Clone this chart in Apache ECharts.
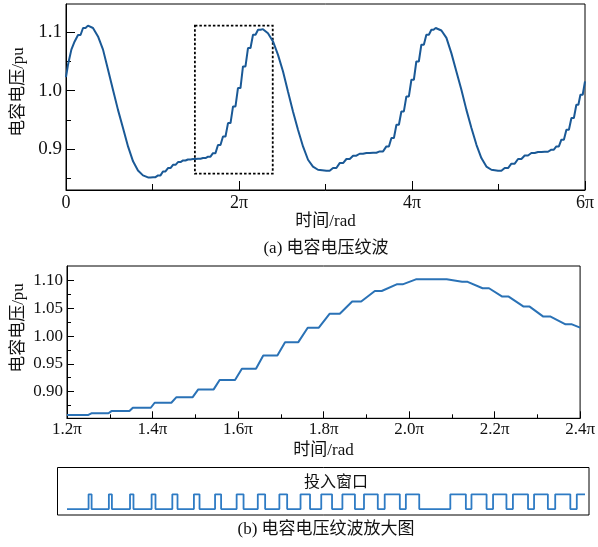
<!DOCTYPE html>
<html><head><meta charset="utf-8">
<script src="https://cdn.jsdelivr.net/npm/echarts@6/dist/echarts.min.js"></script>
<style>html,body{margin:0;padding:0;background:#fff}#c{width:598px;height:547px}</style>
</head><body><div id="c"></div>
<script>
// ---- (a) capacitor voltage ripple, t in units of pi ----
const topT = [0, 0.023, 0.062, 0.10, 0.139, 0.197, 0.254, 0.312, 0.370, 0.428, 0.486, 0.543, 0.601, 0.659, 0.717, 0.775, 0.832, 0.890, 0.948, 1.006, 1.064, 1.121, 1.179, 1.237, 1.295, 1.353, 1.41, 1.468, 1.526, 1.584, 1.642, 1.699, 1.757, 1.815, 1.873, 1.931, 1.988, 2.046, 2.104, 2.162, 2.220, 2.277, 2.335, 2.393, 2.451, 2.509, 2.566, 2.624, 2.682, 2.740, 2.798, 2.855, 2.913, 3.010, 3.087, 3.164, 3.242, 3.319, 3.395, 3.473, 3.550, 3.627, 3.704, 3.762, 3.820, 3.877, 3.935, 3.993, 4.05, 4.108, 4.166, 4.224, 4.274, 4.340, 4.398, 4.455, 4.513, 4.571, 4.629, 4.687, 4.745, 4.802, 4.860, 4.918, 4.995, 5.072, 5.149, 5.226, 5.303, 5.380, 5.457, 5.534, 5.611, 5.669, 5.727, 5.785, 5.843, 5.900, 5.947, 6.0];
const topV = [1.023, 1.044, 1.070, 1.084, 1.095, 1.107, 1.111, 1.107, 1.0925, 1.070, 1.0356, 1.0014, 0.967, 0.936, 0.9045, 0.879, 0.8634, 0.855, 0.8515, 0.852, 0.855, 0.8617, 0.8675, 0.873, 0.8778, 0.8805, 0.8822, 0.8829, 0.8834, 0.8846, 0.887, 0.893, 0.907, 0.9215, 0.9444, 0.9728, 1.0043, 1.0412, 1.0727, 1.0954, 1.104, 1.105, 1.098, 1.084, 1.061, 1.0327, 0.9985, 0.9643, 0.933, 0.9045, 0.8817, 0.870, 0.8646, 0.8629, 0.8675, 0.876, 0.883, 0.8886, 0.892, 0.8932, 0.8937, 0.896, 0.9045, 0.919, 0.9415, 0.9643, 0.990, 1.0185, 1.0497, 1.0783, 1.0954, 1.104, 1.107, 1.1027, 1.090, 1.064, 1.0327, 1.0014, 0.967, 0.936, 0.9073, 0.8846, 0.870, 0.8646, 0.8629, 0.8675, 0.875, 0.883, 0.889, 0.8932, 0.895, 0.8954, 0.899, 0.9045, 0.916, 0.933, 0.953, 0.9757, 0.9928, 1.0156];
const topYTicks = [0.9, 1.0, 1.1];
const topYMinor = [0.85, 0.95, 1.05];
const zoomBoxT = [1.49, 2.39];
const zoomBoxV = [0.858, 1.111];

// ---- (b) zoomed view 1.2pi..2.4pi: insertion windows and resulting levels ----
const pulseOn  = [1.250, 1.297, 1.346, 1.396, 1.444, 1.494, 1.543, 1.593, 1.642, 1.692, 1.741, 1.789, 1.838, 1.888, 1.936, 1.985, 2.088, 2.137, 2.187, 2.233, 2.282, 2.331, 2.381];
const pulseOff = [1.257, 1.304, 1.354, 1.405, 1.456, 1.507, 1.557, 1.609, 1.659, 1.710, 1.763, 1.814, 1.867, 1.920, 1.971, 2.016, 2.124, 2.172, 2.218, 2.268, 2.314, 2.366, 2.400];
const midLevel = [0.858, 0.861, 0.865, 0.871, 0.880, 0.890, 0.904, 0.921, 0.941, 0.965, 0.989, 1.015, 1.040, 1.062, 1.081, 1.093, 1.102, 1.0975, 1.086, 1.071, 1.053, 1.035, 1.021, 1.015];
const midYTicks = [0.90, 0.95, 1.00, 1.05, 1.10];
const midYMinor = [0.875, 0.925, 0.975, 1.025, 1.075];

// build top line: rising intervals drawn as stairs (flat half, then quick rise)
const topData = [];
for (let i = 0; i < topT.length; i++) {
  if (i > 0 && topV[i] > topV[i - 1]) topData.push([(topT[i - 1] + topT[i]) / 2, topV[i - 1]]);
  topData.push([topT[i], topV[i]]);
}
// middle curve: level changes only during insertion windows
const midData = [[1.2, midLevel[0]]];
for (let k = 0; k < pulseOn.length; k++) {
  midData.push([pulseOn[k], midLevel[k]]);
  midData.push([pulseOff[k], midLevel[k + 1]]);
}
midData.push([2.4, midLevel[midLevel.length - 1]]);
// pulse train
const pulseData = [[1.2, 0]];
for (let k = 0; k < pulseOn.length; k++) {
  pulseData.push([pulseOn[k], 0], [pulseOn[k], 1], [pulseOff[k], 1]);
  if (pulseOff[k] < 2.4) pulseData.push([pulseOff[k], 0]);
}

const FONT = "'Liberation Serif', 'Noto Sans CJK SC', serif";
const black = '#000';
const lbl = (size) => ({ color: '#111', fontFamily: FONT, fontSize: size });

const chart = echarts.init(document.getElementById('c'), null, { renderer: 'canvas' });
chart.setOption({
  animation: false,
  backgroundColor: '#fff',
  grid: [
    { left: 66, top: 4, width: 519, height: 186, show: true, borderColor: black, borderWidth: 1 },
    { left: 67, top: 266, width: 518, height: 152.3, show: true, borderColor: black, borderWidth: 1 },
    { left: 67, top: 491.4, width: 518, height: 20.6, show: false }
  ],
  xAxis: [
    { gridIndex: 0, type: 'value', min: 0, max: 6, interval: 2,
      axisLine: { lineStyle: { color: black, width: 1 } },
      axisTick: { inside: true, length: 9, lineStyle: { color: black } },
      minorTick: { show: true, splitNumber: 2, length: 6, lineStyle: { color: black } },
      splitLine: { show: false },
      axisLabel: Object.assign(lbl(18), { margin: 4, formatter: v => v === 0 ? '0' : v + 'π' }),
      name: '时间/rad', nameLocation: 'middle', nameGap: 22, nameTextStyle: lbl(17) },
    { gridIndex: 1, type: 'value', min: 1.2, max: 2.4, interval: 0.2,
      axisLine: { lineStyle: { color: black, width: 1 } },
      axisTick: { inside: true, length: 7, lineStyle: { color: black } },
      minorTick: { show: true, splitNumber: 2, length: 4, lineStyle: { color: black } },
      splitLine: { show: false },
      axisLabel: Object.assign(lbl(17), { margin: 3, formatter: v => v.toFixed(1) + 'π' }),
      name: '时间/rad', nameLocation: 'middle', nameGap: 24, nameTextStyle: lbl(17) },
    { gridIndex: 2, type: 'value', min: 1.2, max: 2.4, show: false }
  ],
  yAxis: [
    { gridIndex: 0, type: 'value', min: 0.83, max: 1.148,
      axisLine: { show: true, lineStyle: { color: black } },
      axisTick: { show: true, inside: true, length: 9, customValues: topYTicks, lineStyle: { color: black } },
      axisLabel: Object.assign(lbl(19), { margin: 4, customValues: topYTicks, formatter: v => v.toFixed(1) }),
      splitLine: { show: false } },
    { gridIndex: 0, type: 'value', min: 0.83, max: 1.148, position: 'left',
      axisLine: { show: false }, axisLabel: { show: false }, splitLine: { show: false },
      axisTick: { show: true, inside: true, length: 5, customValues: topYMinor, lineStyle: { color: black } } },
    { gridIndex: 1, type: 'value', min: 0.852, max: 1.126,
      axisLine: { show: true, lineStyle: { color: black } },
      axisTick: { show: true, inside: true, length: 7, customValues: midYTicks, lineStyle: { color: black } },
      axisLabel: Object.assign(lbl(17), { margin: 4, customValues: midYTicks, formatter: v => v.toFixed(2) }),
      splitLine: { show: false } },
    { gridIndex: 1, type: 'value', min: 0.852, max: 1.126, position: 'left',
      axisLine: { show: false }, axisLabel: { show: false }, splitLine: { show: false },
      axisTick: { show: true, inside: true, length: 4, customValues: midYMinor, lineStyle: { color: black } } },
    { gridIndex: 2, type: 'value', min: -0.2, max: 1.2, show: false }
  ],
  series: [
    { type: 'line', xAxisIndex: 0, yAxisIndex: 0, data: topData, showSymbol: false,
      lineStyle: { color: '#1a5996', width: 2 },
      markArea: { silent: true,
        itemStyle: { color: 'rgba(0,0,0,0)', borderColor: black, borderWidth: 1.8, borderType: [2.5, 2] },
        data: [[{ coord: [zoomBoxT[0], zoomBoxV[1]] }, { coord: [zoomBoxT[1], zoomBoxV[0]] }]] } },
    { type: 'line', xAxisIndex: 1, yAxisIndex: 2, data: midData, showSymbol: false,
      lineStyle: { color: '#2a72b6', width: 2 } },
    { type: 'line', xAxisIndex: 2, yAxisIndex: 4, data: pulseData, showSymbol: false, clip: false,
      lineStyle: { color: '#2e7bc4', width: 1.8 } }
  ],
  graphic: [
    { type: 'text', x: 19, y: 92, rotation: Math.PI / 2,
      style: { text: '电容电压/pu', font: '17px ' + FONT, fill: '#111', align: 'center', verticalAlign: 'middle' } },
    { type: 'text', x: 19, y: 328, rotation: Math.PI / 2,
      style: { text: '电容电压/pu', font: '17px ' + FONT, fill: '#111', align: 'center', verticalAlign: 'middle' } },
    { type: 'text', x: 326, y: 249,
      style: { text: '(a) 电容电压纹波', font: '17px ' + FONT, fill: '#111', align: 'center', verticalAlign: 'middle' } },
    { type: 'rect', shape: { x: 57.5, y: 467.5, width: 531.5, height: 47.5 },
      style: { fill: 'none', stroke: black, lineWidth: 1 } },
    { type: 'text', x: 336, y: 483,
      style: { text: '投入窗口', font: '16px ' + FONT, fill: '#111', align: 'center', verticalAlign: 'middle' } },
    { type: 'text', x: 326, y: 530,
      style: { text: '(b) 电容电压纹波放大图', font: '17px ' + FONT, fill: '#111', align: 'center', verticalAlign: 'middle' } }
  ]
});
</script></body></html>
